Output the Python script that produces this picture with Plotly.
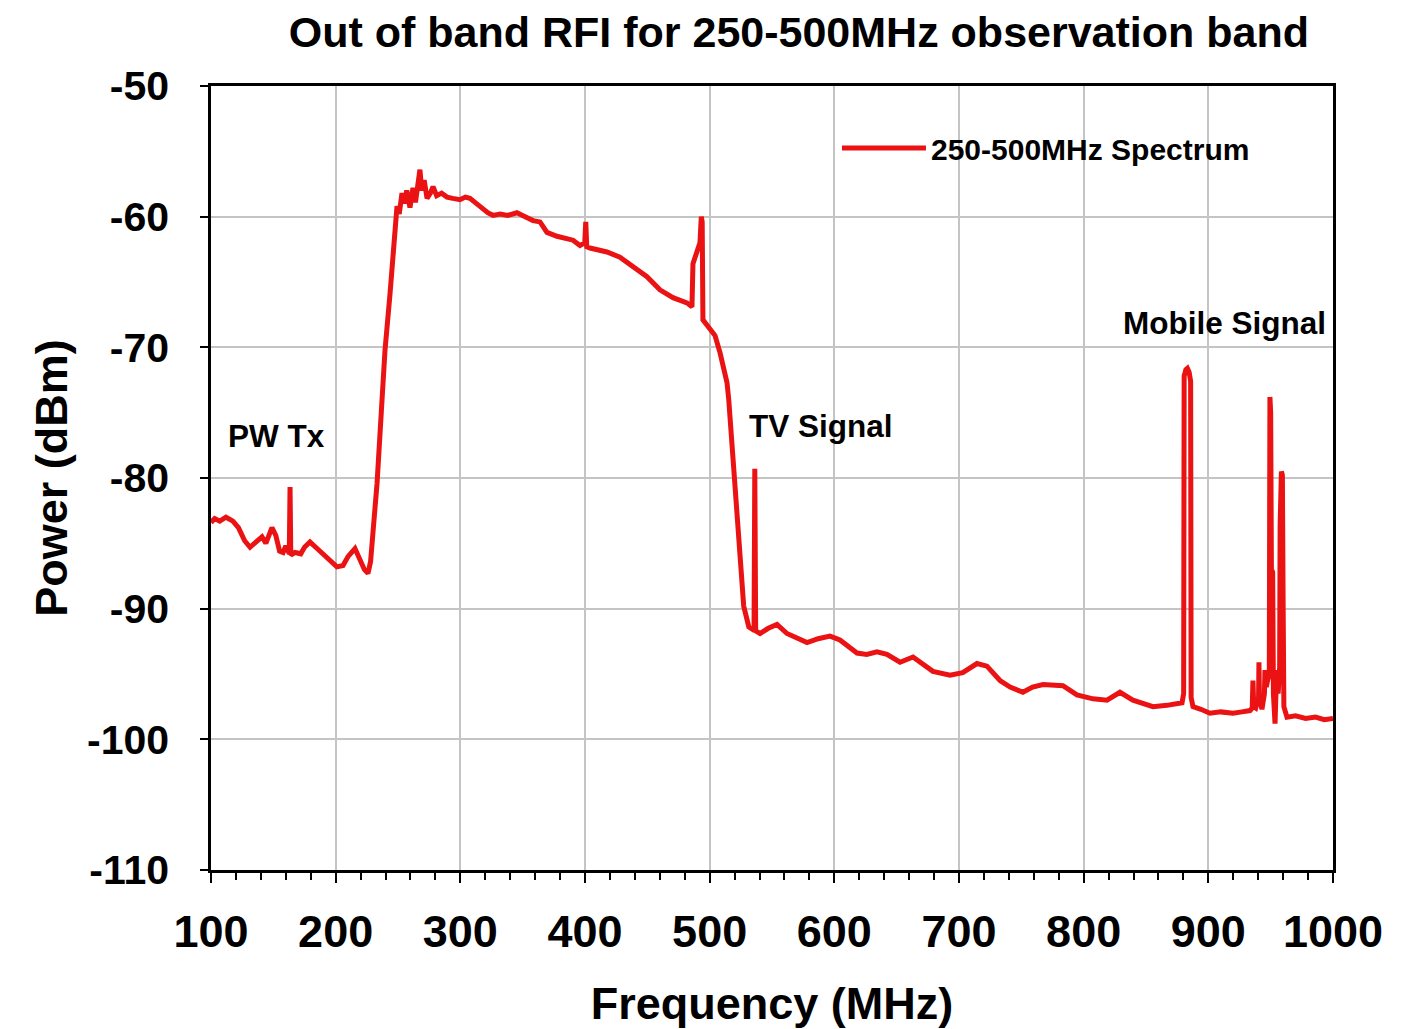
import plotly.graph_objects as go

# Spectrum trace (MHz, dBm)
freq_mhz = [
    100, 103, 107, 112, 117.6, 122, 127, 131.3, 136, 140.9, 144, 148.9, 152, 155, 157.8, 160, 162,
    162.8, 163.4, 164.0, 167.4, 172, 175, 179.4, 184, 190, 196, 201, 205.9, 210, 215.5, 219, 223,
    225.9, 228, 229.9, 233.2, 237.2, 239.6, 243.6, 246.0, 249.2, 251, 253.2, 255, 257, 259.6, 262,
    264, 266, 267.6, 269, 271, 273.3, 276, 278.1, 281, 285, 289.3, 294, 299.7, 304, 307.7, 313,
    318.2, 322, 326.2, 332, 338, 345.4, 352, 358.3, 363.9, 369.5, 377.5, 384, 390.4, 396, 399.8,
    400.6, 401.4, 404, 410, 417.6, 428, 438.5, 449.7, 460.1, 470.6, 481.8, 485.8, 486.6, 489.8,
    492.2, 493.3, 494.0, 494.6, 497, 500.2, 504.3, 508.3, 513.9, 515.3, 519.3, 523.3, 527.3, 531.4,
    534.6, 535.6, 536.2, 536.9, 540.4, 547, 554, 562, 570, 578.1, 587, 596.5, 604.5, 611, 618.2,
    626, 634.2, 642.2, 652.7, 663.1, 671, 679.1, 692.8, 703, 714.4, 722.4, 732.9, 741, 751.3, 759,
    767.4, 783.4, 794.6, 807.5, 818.7, 829.1, 839.5, 855.6, 866.8, 878.9, 880.2, 880.6, 882.0,
    883.2, 884.6, 885.8, 886.2, 887.7, 894, 901.3, 910, 919.8, 927, 933.4, 935.2, 935.8, 936.4,
    938, 940.3, 940.6, 941.0, 943, 945.0, 945.4, 946.5, 947.5, 948.9, 949.4, 950.0, 950.6, 951.6,
    952.2, 953.5, 954.4, 955, 956, 957.2, 957.6, 958.6, 959.4, 960.0, 960.6, 963.1, 970, 978, 986,
    993, 1000,
]
power_dbm = [
    -83.4, -83.1, -83.3, -83.0, -83.3, -83.8, -84.8, -85.3, -84.9, -84.5, -85.0, -83.8, -84.4, -85.6,
    -85.7, -85.2, -85.6, -85.8, -80.7, -85.9, -85.7, -85.8, -85.3, -84.9, -85.3, -85.8, -86.3, -86.8,
    -86.7, -86.0, -85.4, -86.1, -87.0, -87.3, -86.4, -84.2, -80.4, -74.0, -70.2, -65.9, -62.5, -59.2,
    -59.8, -58.2, -59.0, -58.0, -59.3, -57.8, -58.9, -57.5, -56.4, -58.0, -57.2, -58.6, -58.2, -57.7,
    -58.4, -58.2, -58.5, -58.6, -58.7, -58.5, -58.6, -59.0, -59.4, -59.7, -59.9, -59.8, -59.9, -59.7,
    -60.0, -60.3, -60.4, -61.2, -61.5, -61.7, -61.8, -62.2, -62.0, -60.4, -62.3, -62.4, -62.5, -62.7,
    -63.1, -63.8, -64.6, -65.6, -66.2, -66.6, -66.9, -63.6, -62.8, -62.0, -60.0, -60.4, -67.9, -68.2,
    -68.7, -69.1, -70.4, -72.7, -74.0, -79.1, -84.7, -89.8, -91.4, -91.6, -91.5, -79.3, -91.7, -91.9,
    -91.5, -91.2, -91.9, -92.3, -92.6, -92.3, -92.1, -92.4, -92.9, -93.4, -93.5, -93.3, -93.5, -94.1,
    -93.7, -94.3, -94.8, -95.1, -94.9, -94.2, -94.4, -95.5, -96.0, -96.4, -96.0, -95.8, -95.9, -96.6,
    -96.9, -97.0, -96.4, -97.0, -97.5, -97.4, -97.2, -96.5, -72.2, -71.7, -71.6, -71.9, -72.6, -96.8,
    -97.5, -97.7, -98.0, -97.9, -98.0, -97.9, -97.8, -97.6, -95.5, -97.5, -97.6, -96.8, -94.1, -96.8,
    -97.7, -96.5, -94.7, -96.0, -95.5, -95.0, -73.8, -75.0, -87.0, -87.2, -96.5, -98.8, -96.0, -94.7,
    -96.5, -94.5, -83.6, -79.5, -79.8, -89.7, -97.5, -98.3, -98.2, -98.4, -98.3, -98.5, -98.4,
]

x_ticks = [100, 200, 300, 400, 500, 600, 700, 800, 900, 1000]
y_ticks = [-50, -60, -70, -80, -90, -100, -110]

note_text = ["PW Tx", "TV Signal", "Mobile Signal"]
note_x = [152.9, 589.3, 913.3]
note_y = [-76.8, -76.0, -68.1]

FONT = "Arial, Liberation Sans, sans-serif"
RED = "#EA1212"
W, H = 1393, 1021

fig = go.Figure()
fig.add_trace(go.Scatter(
    x=freq_mhz, y=power_dbm, mode="lines", name="250-500MHz Spectrum",
    line=dict(color=RED, width=5),
))

for t, xx, yy in zip(note_text, note_x, note_y):
    fig.add_annotation(x=xx, y=yy, text=t, showarrow=False,
                       font=dict(family=FONT, size=31.5, color="black", weight="bold"))

fig.update_layout(
    width=W, height=H,
    margin=dict(l=203, r=68, t=78, b=159, autoexpand=False),
    paper_bgcolor="white", plot_bgcolor="white",
    title=dict(text="Out of band RFI for 250-500MHz observation band",
               x=0.524, xref="paper", xanchor="center",
               y=1 - 24 / H, yref="container", yanchor="middle",
               font=dict(family=FONT, size=43, color="black", weight="bold")),
    showlegend=True,
    legend=dict(x=0.5579, y=0.921, xanchor="left", yanchor="middle",
                bgcolor="rgba(0,0,0,0)", borderwidth=0, itemwidth=84,
                font=dict(family=FONT, size=30, color="black", weight="bold")),
)

fig.update_xaxes(
    range=[100, 1000], tickvals=x_ticks, ticktext=[str(v) for v in x_ticks],
    showgrid=True, gridcolor="#c4c4c4", gridwidth=2,
    showline=True, linecolor="black", linewidth=2.5, mirror=True,
    ticks="outside", ticklen=10, tickwidth=2, tickcolor="black",
    minor=dict(ticks="outside", ticklen=7, tickwidth=1.5, tickcolor="black", dtick=20, showgrid=False),
    ticklabelstandoff=10, zeroline=False, automargin=False,
    tickfont=dict(family=FONT, size=45, color="black", weight="bold"),
    title=dict(text="Frequency (MHz)", standoff=34,
               font=dict(family=FONT, size=45, color="black", weight="bold")),
)
fig.update_yaxes(
    range=[-110, -50], tickvals=y_ticks, ticktext=[str(v) for v in y_ticks],
    showgrid=True, gridcolor="#c4c4c4", gridwidth=2,
    showline=True, linecolor="black", linewidth=2.5, mirror=True,
    ticks="outside", ticklen=8, tickwidth=2, tickcolor="black",
    ticklabelstandoff=23, zeroline=False, automargin=False,
    tickfont=dict(family=FONT, size=41, color="black", weight="bold"),
    title=dict(text="Power (dBm)", standoff=6,
               font=dict(family=FONT, size=45, color="black", weight="bold")),
)

fig.write_html("out.html")
